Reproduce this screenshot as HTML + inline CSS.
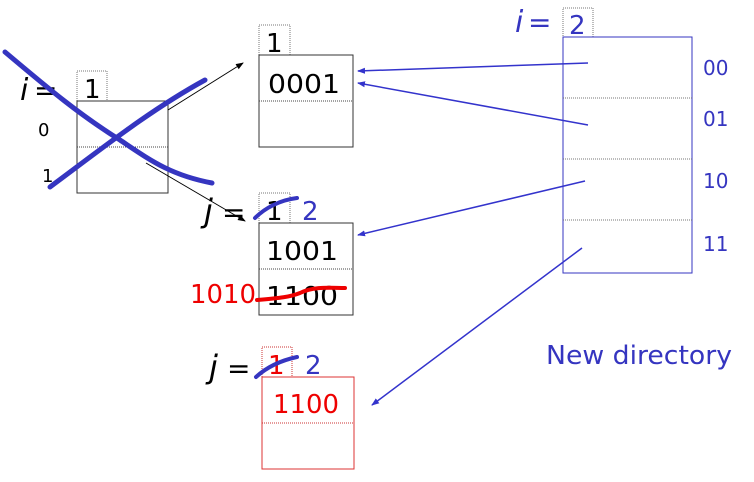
<!DOCTYPE html>
<html><head><meta charset="utf-8"><style>
html,body{margin:0;padding:0;background:#fff;}
svg{display:block;font-family:"DejaVu Sans","Liberation Sans",sans-serif;}
</style></head><body>
<svg width="754" height="482" viewBox="0 0 754 482">
<defs>
<marker id="ab" markerWidth="8" markerHeight="8" refX="7" refY="4" orient="auto" markerUnits="userSpaceOnUse"><path d="M0,1 L8,4 L0,7 z" fill="#3333cc"/></marker>
<marker id="ak" markerWidth="8" markerHeight="8" refX="7" refY="4" orient="auto" markerUnits="userSpaceOnUse"><path d="M0,1 L8,4 L0,7 z" fill="#000"/></marker>
</defs>

<!-- old directory -->
<g>
<text x="20" y="100" font-size="30" font-style="italic" fill="#000">i</text>
<text x="34" y="100" font-size="28" fill="#000">=</text>
<rect x="77" y="71" width="30" height="30" fill="none" stroke="#777" stroke-dasharray="1,1"/>
<text x="84" y="98" font-size="26">1</text>
<rect x="77" y="101" width="91" height="92" fill="none" stroke="#333"/>
<line x1="77" y1="147" x2="168" y2="147" stroke="#444" stroke-dasharray="1,1"/>
<text x="38" y="136" font-size="18">0</text>
<text x="42" y="182" font-size="18">1</text>
</g>
<line x1="168" y1="110" x2="243" y2="63" stroke="#000" stroke-width="1" marker-end="url(#ak)"/>
<line x1="146" y1="163" x2="245" y2="221" stroke="#000" stroke-width="1" marker-end="url(#ak)"/>
<path d="M5,52 C50,90 80,115 120,140 C150,160 170,175 212,183" fill="none" stroke="#3535c0" stroke-width="5" stroke-linecap="round"/>
<path d="M50,187 C100,150 150,110 205,80" fill="none" stroke="#3535c0" stroke-width="5" stroke-linecap="round"/>

<!-- bucket 1 -->
<g>
<rect x="259" y="25" width="31" height="30" fill="none" stroke="#777" stroke-dasharray="1,1"/>
<text x="266" y="52" font-size="26">1</text>
<rect x="259" y="55" width="94" height="92" fill="none" stroke="#333"/>
<line x1="259" y1="101" x2="353" y2="101" stroke="#444" stroke-dasharray="1,1"/>
<text x="268" y="93" font-size="26" textLength="72" lengthAdjust="spacingAndGlyphs">0001</text>
</g>

<!-- bucket 2 -->
<g>
<text x="204" y="222" font-size="32" font-style="italic">j</text>
<text x="222" y="222" font-size="28">=</text>
<rect x="259" y="193" width="31" height="30" fill="none" stroke="#777" stroke-dasharray="1,1"/>
<text x="266" y="220" font-size="26">1</text>
<text x="302" y="220" font-size="26" fill="#3535c0">2</text>
<path d="M255,218 C265,208 280,200 297,198" fill="none" stroke="#3535c0" stroke-width="4" stroke-linecap="round"/>
<rect x="259" y="223" width="94" height="92" fill="none" stroke="#333"/>
<line x1="259" y1="269" x2="353" y2="269" stroke="#444" stroke-dasharray="1,1"/>
<text x="266" y="260" font-size="26" textLength="72" lengthAdjust="spacingAndGlyphs">1001</text>
<text x="266" y="305" font-size="26" textLength="72" lengthAdjust="spacingAndGlyphs">1100</text>
<text x="190" y="303" font-size="26" fill="#ee0000" textLength="66" lengthAdjust="spacingAndGlyphs">1010</text>
<path d="M257,300 C280,298 290,297 300,293 C315,286 330,288 345,288" fill="none" stroke="#ee0000" stroke-width="4" stroke-linecap="round"/>
</g>

<!-- bucket 3 -->
<g>
<text x="209" y="378" font-size="32" font-style="italic">j</text>
<text x="227" y="378" font-size="28">=</text>
<rect x="262" y="347" width="30" height="30" fill="none" stroke="#cc3333" stroke-dasharray="1,1"/>
<text x="268" y="374" font-size="26" fill="#ee0000">1</text>
<text x="305" y="374" font-size="26" fill="#3535c0">2</text>
<path d="M256,377 C268,366 283,360 297,357" fill="none" stroke="#3535c0" stroke-width="4" stroke-linecap="round"/>
<rect x="262" y="377" width="92" height="92" fill="none" stroke="#dd3333"/>
<line x1="262" y1="423" x2="354" y2="423" stroke="#cc3333" stroke-dasharray="1,1"/>
<text x="273" y="413" font-size="26" fill="#ee0000" textLength="66" lengthAdjust="spacingAndGlyphs">1100</text>
</g>

<!-- new directory -->
<g fill="#3535c0">
<text x="515" y="32" font-size="30" font-style="italic">i</text>
<text x="528" y="32" font-size="28">=</text>
<rect x="563" y="8" width="30" height="29" fill="none" stroke="#777" stroke-dasharray="1,1"/>
<text x="569" y="34" font-size="26">2</text>
<rect x="563" y="37" width="129" height="236" fill="none" stroke="#3535c0"/>
<line x1="563" y1="98" x2="692" y2="98" stroke="#777" stroke-dasharray="1,1"/>
<line x1="563" y1="159" x2="692" y2="159" stroke="#777" stroke-dasharray="1,1"/>
<line x1="563" y1="220" x2="692" y2="220" stroke="#777" stroke-dasharray="1,1"/>
<text x="703" y="75" font-size="20">00</text>
<text x="703" y="126" font-size="20">01</text>
<text x="703" y="188" font-size="20">10</text>
<text x="703" y="251" font-size="20">11</text>
<text x="546" y="364" font-size="26" textLength="186" lengthAdjust="spacingAndGlyphs">New directory</text>
</g>
<line x1="588" y1="63" x2="358" y2="71" stroke="#3333cc" stroke-width="1.5" marker-end="url(#ab)"/>
<line x1="588" y1="125" x2="358" y2="83" stroke="#3333cc" stroke-width="1.5" marker-end="url(#ab)"/>
<line x1="585" y1="181" x2="358" y2="235" stroke="#3333cc" stroke-width="1.5" marker-end="url(#ab)"/>
<line x1="582" y1="248" x2="372" y2="405" stroke="#3333cc" stroke-width="1.5" marker-end="url(#ab)"/>
</svg>
</body></html>
